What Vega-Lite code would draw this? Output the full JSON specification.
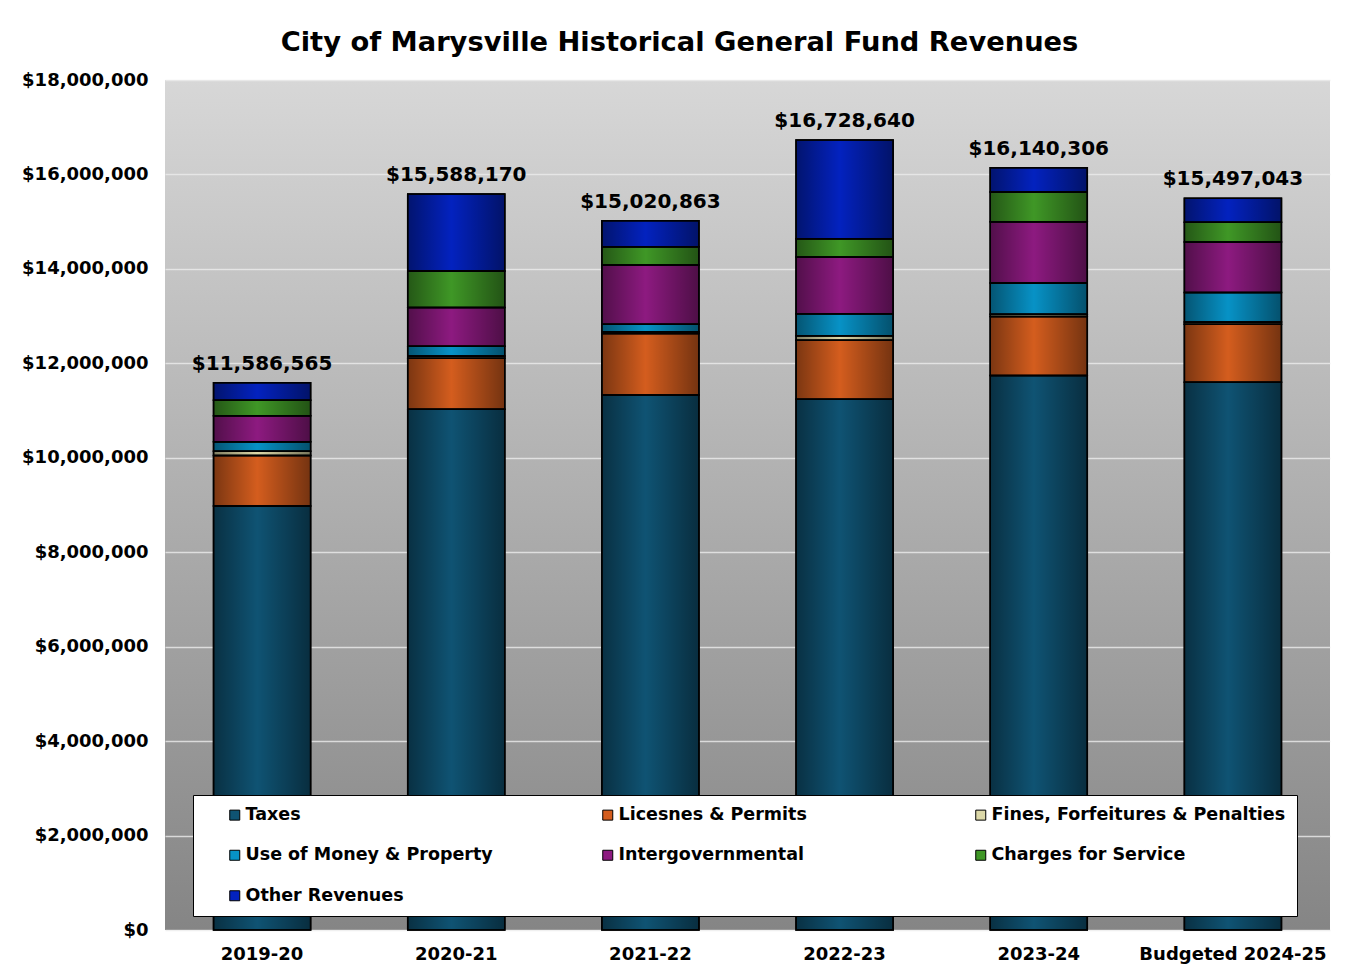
{
  "$schema": "https://vega.github.io/schema/vega-lite/v6.json",
  "width": 1165,
  "height": 850,
  "padding": {"left": 15, "top": 28, "right": 24, "bottom": 10},
  "background": "white",
  "config": {
    "view": {"stroke": null, "fill": {"gradient": "linear", "x1": 0, "y1": 0, "x2": 0, "y2": 1, "stops": [{"offset": 0, "color": "#d7d7d7"}, {"offset": 1, "color": "#858585"}]}}
  },
  "title": {"text": "City of Marysville Historical General Fund Revenues", "font": "DejaVu Sans", "fontSize": 27.3, "fontWeight": "bold", "color": "black", "anchor": "middle", "frame": "bounds", "offset": 15, "dx": 7},
  "data": {"values": [
    {"year": "2019-20", "source": "Taxes", "k": 1, "amount": 8980000},
    {"year": "2019-20", "source": "Licesnes & Permits", "k": 2, "amount": 1070000},
    {"year": "2019-20", "source": "Fines, Forfeitures & Penalties", "k": 3, "amount": 90000},
    {"year": "2019-20", "source": "Use of Money & Property", "k": 4, "amount": 200000},
    {"year": "2019-20", "source": "Intergovernmental", "k": 5, "amount": 550000},
    {"year": "2019-20", "source": "Charges for Service", "k": 6, "amount": 330000},
    {"year": "2019-20", "source": "Other Revenues", "k": 7, "amount": 366565},
    {"year": "2020-21", "source": "Taxes", "k": 1, "amount": 11030000},
    {"year": "2020-21", "source": "Licesnes & Permits", "k": 2, "amount": 1080000},
    {"year": "2020-21", "source": "Fines, Forfeitures & Penalties", "k": 3, "amount": 45000},
    {"year": "2020-21", "source": "Use of Money & Property", "k": 4, "amount": 205000},
    {"year": "2020-21", "source": "Intergovernmental", "k": 5, "amount": 820000},
    {"year": "2020-21", "source": "Charges for Service", "k": 6, "amount": 775000},
    {"year": "2020-21", "source": "Other Revenues", "k": 7, "amount": 1633170},
    {"year": "2021-22", "source": "Taxes", "k": 1, "amount": 11330000},
    {"year": "2021-22", "source": "Licesnes & Permits", "k": 2, "amount": 1300000},
    {"year": "2021-22", "source": "Fines, Forfeitures & Penalties", "k": 3, "amount": 40000},
    {"year": "2021-22", "source": "Use of Money & Property", "k": 4, "amount": 160000},
    {"year": "2021-22", "source": "Intergovernmental", "k": 5, "amount": 1250000},
    {"year": "2021-22", "source": "Charges for Service", "k": 6, "amount": 390000},
    {"year": "2021-22", "source": "Other Revenues", "k": 7, "amount": 550863},
    {"year": "2022-23", "source": "Taxes", "k": 1, "amount": 11240000},
    {"year": "2022-23", "source": "Licesnes & Permits", "k": 2, "amount": 1250000},
    {"year": "2022-23", "source": "Fines, Forfeitures & Penalties", "k": 3, "amount": 95000},
    {"year": "2022-23", "source": "Use of Money & Property", "k": 4, "amount": 465000},
    {"year": "2022-23", "source": "Intergovernmental", "k": 5, "amount": 1200000},
    {"year": "2022-23", "source": "Charges for Service", "k": 6, "amount": 390000},
    {"year": "2022-23", "source": "Other Revenues", "k": 7, "amount": 2088640},
    {"year": "2023-24", "source": "Taxes", "k": 1, "amount": 11740000},
    {"year": "2023-24", "source": "Licesnes & Permits", "k": 2, "amount": 1250000},
    {"year": "2023-24", "source": "Fines, Forfeitures & Penalties", "k": 3, "amount": 50000},
    {"year": "2023-24", "source": "Use of Money & Property", "k": 4, "amount": 660000},
    {"year": "2023-24", "source": "Intergovernmental", "k": 5, "amount": 1300000},
    {"year": "2023-24", "source": "Charges for Service", "k": 6, "amount": 630000},
    {"year": "2023-24", "source": "Other Revenues", "k": 7, "amount": 510306},
    {"year": "Budgeted 2024-25", "source": "Taxes", "k": 1, "amount": 11600000},
    {"year": "Budgeted 2024-25", "source": "Licesnes & Permits", "k": 2, "amount": 1230000},
    {"year": "Budgeted 2024-25", "source": "Fines, Forfeitures & Penalties", "k": 3, "amount": 45000},
    {"year": "Budgeted 2024-25", "source": "Use of Money & Property", "k": 4, "amount": 625000},
    {"year": "Budgeted 2024-25", "source": "Intergovernmental", "k": 5, "amount": 1070000},
    {"year": "Budgeted 2024-25", "source": "Charges for Service", "k": 6, "amount": 420000},
    {"year": "Budgeted 2024-25", "source": "Other Revenues", "k": 7, "amount": 507043}
  ]},
  "encoding": {
    "x": {
      "field": "year", "type": "nominal", "sort": null,
      "scale": {"paddingInner": 0.5, "paddingOuter": 0.25},
      "axis": {"title": null, "labelAngle": 0, "domain": false, "ticks": false, "labelPadding": 15, "labelLimit": 400, "labelFont": "DejaVu Sans", "labelFontWeight": "bold", "labelFontSize": 18, "labelColor": "black"}
    }
  },
  "layer": [
    {
      "mark": {"type": "bar", "stroke": "black", "strokeWidth": 1.5},
      "encoding": {
        "y": {
          "field": "amount", "type": "quantitative", "stack": "zero",
          "scale": {"domain": [0, 18000000], "nice": false},
          "axis": {"title": null, "values": [0, 2000000, 4000000, 6000000, 8000000, 10000000, 12000000, 14000000, 16000000, 18000000], "format": "$,.0f", "domain": false, "ticks": false, "labelPadding": 17, "labelFont": "DejaVu Sans", "labelFontWeight": "bold", "labelFontSize": 18, "labelColor": "black", "grid": true, "gridColor": "#ececec", "gridOpacity": 0.8, "gridWidth": 1.5, "minExtent": 150, "maxExtent": 150}
        },
        "order": {"field": "k", "type": "quantitative", "sort": "ascending"},
        "color": {
          "field": "source", "type": "nominal",
          "scale": {
            "domain": ["Taxes", "Licesnes & Permits", "Fines, Forfeitures & Penalties", "Use of Money & Property", "Intergovernmental", "Charges for Service", "Other Revenues"],
            "range": ["#0f5373", "#d45d1e", "#dcd8a8", "#0792c6", "#8d1a80", "#3f9726", "#0322bf"]
          },
          "legend": {
            "title": null, "orient": "none", "legendX": 28, "legendY": 715, "direction": "horizontal", "columns": 3, "gridAlign": "all",
            "columnPadding": 37, "rowPadding": 21.5, "padding": 11,
            "fillColor": "white", "strokeColor": "black",
            "labelFont": "DejaVu Sans", "labelFontWeight": "bold", "labelFontSize": 17.5, "labelColor": "black", "labelLimit": 400, "labelOffset": 2,
            "symbolType": "square", "symbolSize": 100, "symbolStrokeColor": "black", "symbolStrokeWidth": 1, "symbolOffset": 22, "symbolOpacity": 1
          }
        }
      }
    },
    {
      "mark": {"type": "bar", "fill": {"gradient": "linear", "x1": 0, "y1": 0, "x2": 1, "y2": 0, "stops": [{"offset": 0, "color": "rgba(0,0,0,0.42)"}, {"offset": 0.45, "color": "rgba(0,0,0,0)"}, {"offset": 1, "color": "rgba(0,0,0,0.45)"}]}, "stroke": "black", "strokeWidth": 1.5},
      "encoding": {
        "y": {"field": "amount", "type": "quantitative", "stack": "zero"},
        "order": {"field": "k", "type": "quantitative", "sort": "ascending"},
        "detail": {"field": "source", "type": "nominal"}
      }
    },
    {
      "transform": [{"aggregate": [{"op": "sum", "field": "amount", "as": "total"}], "groupby": ["year"]}],
      "mark": {"type": "text", "baseline": "alphabetic", "dy": -13, "font": "DejaVu Sans", "fontWeight": "bold", "fontSize": 20, "color": "black"},
      "encoding": {
        "y": {"field": "total", "type": "quantitative"},
        "text": {"field": "total", "type": "quantitative", "format": "$,.0f"}
      }
    }
  ]
}
